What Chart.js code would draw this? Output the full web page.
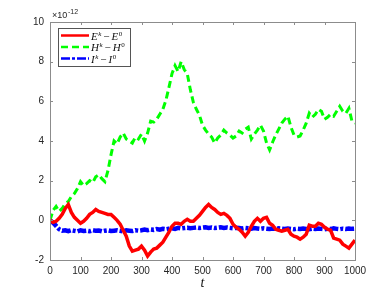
<!DOCTYPE html>
<html>
<head>
<meta charset="utf-8">
<script src="https://cdn.jsdelivr.net/npm/chart.js@4"></script>
<style>
  html, body { margin: 0; padding: 0; background: #fff; }
  #wrap { width: 392px; height: 294px; }
</style>
</head>
<body>
<div id="wrap"><canvas id="chart" width="392" height="294"></canvas></div>
<script>
// sample spacing along t (every 10 steps)
const tStep = 10;

// values in units of 1e-12
const energyDiff = [
    0, -0.1, -0.05, 0.1, 0.3, 0.6, 0.8, 0.4, 0.15, 0.0,
    -0.15, -0.05, 0.1, 0.3, 0.4, 0.55, 0.45, 0.4, 0.35, 0.3,
    0.3, 0.15, 0.0, -0.2, -0.5, -0.8, -1.3, -1.55, -1.5, -1.45,
    -1.3, -1.5, -1.8, -1.6, -1.45, -1.4, -1.25, -1.1, -0.85, -0.6,
    -0.3, -0.15, -0.15, -0.2, -0.05, 0.05, -0.05, -0.05, 0.1, 0.25,
    0.45, 0.65, 0.8, 0.65, 0.55, 0.4, 0.3, 0.35, 0.25, 0.1,
    -0.2, -0.35, -0.45, -0.6, -0.8, -0.6, -0.3, -0.05, 0.1, -0.05,
    0.1, 0.15, -0.15, -0.25, -0.45, -0.5, -0.55, -0.5, -0.45, -0.7,
    -0.8, -0.85, -0.95, -0.85, -0.7, -0.25, -0.3, -0.3, -0.15, -0.2,
    -0.35, -0.45, -0.5, -0.9, -0.95, -1.0, -1.2, -1.3, -1.4, -1.2,
    -1.0
];

const helicityDiff = [
    0.0, 0.5, 0.7, 0.45, 0.6, 0.85, 0.95, 1.2, 1.35, 1.6,
    1.95, 1.75, 1.85, 2.0, 1.9, 2.2, 2.3, 2.1, 1.95, 2.5,
    3.3, 4.0, 3.85, 4.2, 4.4, 4.1, 4.0, 3.9, 4.2, 4.1,
    4.35, 4.0, 4.4, 5.0, 4.95, 5.1, 5.35, 5.6, 6.05, 6.7,
    7.4, 7.8, 7.5, 8.0, 7.6, 7.4, 6.6, 5.95, 5.6, 5.3,
    4.8, 4.55, 4.35, 4.2, 3.9, 4.15, 4.3, 4.55, 4.4, 4.3,
    4.15, 4.25, 4.5, 4.4, 4.6, 4.7, 4.1, 4.35, 4.55, 4.8,
    4.5, 3.9, 3.55, 3.95, 4.3, 4.6, 4.9, 5.1, 5.25, 4.7,
    4.3, 4.2, 4.25, 4.55, 4.9, 5.4, 5.2, 5.35, 5.6, 5.5,
    5.1, 5.2, 5.35, 5.25, 5.5, 5.75, 5.5, 5.4, 5.65, 5.0,
    4.9
];

const thirdDiff = [
    0, -0.12, -0.28, -0.45, -0.52, -0.5, -0.55, -0.5, -0.53, -0.56,
    -0.5, -0.54, -0.52, -0.55, -0.5, -0.53, -0.51, -0.55, -0.52, -0.5,
    -0.54, -0.52, -0.5, -0.53, -0.55, -0.5, -0.52, -0.54, -0.5, -0.52,
    -0.5, -0.47, -0.5, -0.46, -0.48, -0.44, -0.47, -0.43, -0.45, -0.42,
    -0.4, -0.43, -0.38, -0.41, -0.39, -0.37, -0.4, -0.38, -0.36, -0.39,
    -0.37, -0.35, -0.38, -0.36, -0.39, -0.37, -0.35, -0.38, -0.36, -0.38,
    -0.4, -0.37, -0.39, -0.41, -0.38, -0.4, -0.42, -0.39, -0.41, -0.43,
    -0.4, -0.42, -0.44, -0.41, -0.43, -0.4, -0.42, -0.44, -0.41, -0.43,
    -0.45, -0.42, -0.44, -0.41, -0.43, -0.45, -0.42, -0.44, -0.41, -0.43,
    -0.45, -0.42, -0.44, -0.4, -0.43, -0.45, -0.42, -0.44, -0.41, -0.43,
    -0.42
];

const xTicks = [0, 100, 200, 300, 400, 500, 600, 700, 800, 900, 1000];
const yTicks = [-2, 0, 2, 4, 6, 8, 10];

// legend pieces: base letter, superscript
const legendParts = [['E', 'E'], ['H', 'H'], ['I', 'I']];

const toPoints = (vals) => vals.map((v, i) => ({ x: i * tStep, y: v }));

// MATLAB-like box with inward ticks, exponent label and boxed legend
const boxPlugin = {
    id: 'boxPlugin',
    afterDraw(chart) {
        const { ctx, chartArea: a, scales } = chart;
        ctx.save();
        ctx.strokeStyle = '#8c8c8c';
        ctx.lineWidth = 1;
        ctx.strokeRect(a.left + 0.5, a.top + 0.5, a.right - a.left, a.bottom - a.top);
        ctx.beginPath();
        xTicks.forEach((t) => {
            const px = Math.round(scales.x.getPixelForValue(t)) + 0.5;
            ctx.moveTo(px, a.bottom); ctx.lineTo(px, a.bottom - 3);
            ctx.moveTo(px, a.top); ctx.lineTo(px, a.top + 3);
        });
        yTicks.forEach((t) => {
            const py = Math.round(scales.y.getPixelForValue(t)) + 0.5;
            ctx.moveTo(a.left, py); ctx.lineTo(a.left + 3, py);
            ctx.moveTo(a.right, py); ctx.lineTo(a.right - 3, py);
        });
        ctx.stroke();

        // exponent
        ctx.fillStyle = '#262626';
        ctx.font = '9px "Liberation Sans", Arial, sans-serif';
        ctx.textBaseline = 'alphabetic';
        ctx.fillText('\u00D710', a.left + 2, a.top - 4);
        ctx.font = '7px "Liberation Sans", Arial, sans-serif';
        ctx.fillText('-12', a.left + 18, a.top - 8);

        // legend
        const lx = a.left + 8, ly = a.top + 6, lw = 72, lh = 38;
        ctx.fillStyle = '#fff';
        ctx.fillRect(lx, ly, lw, lh);
        ctx.strokeStyle = '#555';
        ctx.strokeRect(lx + 0.5, ly + 0.5, lw, lh);
        chart.data.datasets.forEach((ds, i) => {
            const y = ly + 7.5 + i * 11.5;
            ctx.strokeStyle = ds.borderColor;
            ctx.lineWidth = 2.5;
            ctx.setLineDash(ds.borderDash || []);
            ctx.beginPath();
            ctx.moveTo(lx + 3, y);
            ctx.lineTo(lx + 31, y);
            ctx.stroke();
            ctx.setLineDash([]);
            ctx.fillStyle = '#111';
            ctx.textBaseline = 'alphabetic';
            const base = y + 4;
            let x = lx + 33;
            const big = 'italic 11px "Liberation Serif", "DejaVu Serif", serif';
            const small = 'italic 7px "Liberation Serif", "DejaVu Serif", serif';
            const up = '7px "Liberation Serif", "DejaVu Serif", serif';
            ctx.font = big; ctx.fillText(legendParts[i][0], x, base); x += ctx.measureText(legendParts[i][0]).width + 0.5;
            ctx.font = small; ctx.fillText('k', x, base - 4); x += ctx.measureText('k').width + 2;
            ctx.font = '11px "Liberation Serif", "DejaVu Serif", serif'; ctx.fillText('\u2212', x, base); x += ctx.measureText('\u2212').width + 2;
            ctx.font = big; ctx.fillText(legendParts[i][1], x, base); x += ctx.measureText(legendParts[i][1]).width + 0.5;
            ctx.font = up; ctx.fillText('0', x, base - 4);
        });
        ctx.restore();
    }
};

new Chart(document.getElementById('chart'), {
    type: 'line',
    data: {
        datasets: [
            {
                label: 'E^k - E^0',
                data: toPoints(energyDiff),
                borderColor: '#ff0000',
                borderWidth: 3.5,
                pointRadius: 0,
                tension: 0,
            },
            {
                label: 'H^k - H^0',
                data: toPoints(helicityDiff),
                borderColor: '#00ff00',
                borderWidth: 3,
                borderDash: [7, 4],
                pointRadius: 0,
                tension: 0,
            },
            {
                label: 'I^k - I^0',
                data: toPoints(thirdDiff),
                borderColor: '#0000ff',
                borderWidth: 4.5,
                borderDash: [9, 2, 3, 2],
                pointRadius: 0,
                tension: 0,
            },
        ],
    },
    options: {
        responsive: false,
        animation: false,
        layout: { padding: { top: 22, right: 37, left: 0, bottom: 2 } },
        plugins: {
            legend: { display: false },
            tooltip: { enabled: false },
        },
        scales: {
            x: {
                type: 'linear',
                min: 0,
                max: 1000,
                afterBuildTicks: (axis) => { axis.ticks = xTicks.map((v) => ({ value: v })); },
                afterFit: (axis) => { axis.height = 32; },
                grid: { display: false, drawTicks: false },
                border: { display: false },
                ticks: {
                    padding: 5,
                    maxRotation: 0,
                    minRotation: 0,
                    autoSkip: false,
                    color: '#262626',
                    font: { family: '"Liberation Sans", Arial, sans-serif', size: 10 },
                    callback: (v) => String(v),
                },
                title: {
                    display: true,
                    text: 't',
                    padding: { top: 2, bottom: 0 },
                    color: '#111',
                    font: { family: '"Liberation Serif", "DejaVu Serif", serif', size: 14, style: 'italic' },
                },
            },
            y: {
                min: -2,
                max: 10,
                afterBuildTicks: (axis) => { axis.ticks = yTicks.map((v) => ({ value: v })); },
                afterFit: (axis) => { axis.width = 50; },
                grid: { display: false, drawTicks: false },
                border: { display: false },
                ticks: {
                    padding: 6,
                    color: '#262626',
                    font: { family: '"Liberation Sans", Arial, sans-serif', size: 10 },
                },
            },
        },
    },
    plugins: [boxPlugin],
});
</script>
</body>
</html>
